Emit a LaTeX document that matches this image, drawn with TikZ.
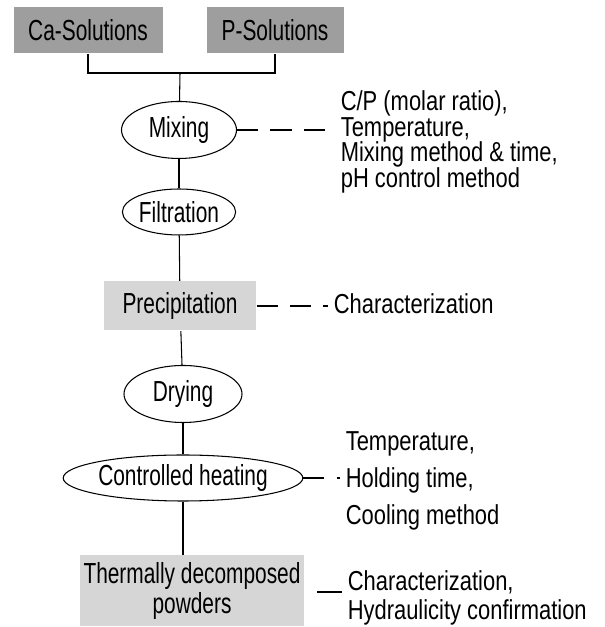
\documentclass[tikz,border=0pt]{standalone}
\usepackage{fontspec}
\setmainfont{Liberation Sans}
\newfontfamily\labelfont{Liberation Sans}[FakeStretch=0.72]
\newfontfamily\notefont{Liberation Sans}[FakeStretch=0.80]
\usetikzlibrary{shapes.geometric}
\definecolor{solgray}{gray}{0.62}
\definecolor{stepgray}{gray}{0.84}
\setlength{\lineskiplimit}{-20pt}

\begin{document}
\begin{tikzpicture}
[font=\labelfont\fontsize{16.5}{17}\selectfont, line width=0.6pt,
solution/.style={rectangle, fill=solgray, inner sep=0pt, minimum width=2.9cm, minimum height=0.92cm},
product/.style={rectangle, fill=stepgray, inner sep=0pt, align=center},
process/.style={ellipse, draw, inner sep=0pt},
note/.style={anchor=west, inner sep=3pt, align=left, font=\notefont\fontsize{15.6}{14.5}\selectfont},
link/.style={draw},
notelink/.style={draw, dash pattern=on 12pt off 7pt}]

\useasboundingbox (0,0) rectangle (12.08,12.54);

% starting solutions
\node[solution, minimum width=2.98cm] (ca) at (1.76,11.94) {Ca-Solutions};
\node[solution, minimum width=2.74cm] (psol) at (5.50,11.94) {P-Solutions};
\coordinate (joint) at (3.60,11.08);

% process steps
\node[process, minimum width=2.30cm, minimum height=1.14cm] (mixing) at (3.58,9.94) {Mixing};
\node[process, minimum width=2.16cm, minimum height=0.92cm] (filtration) at (3.58,8.30) {Filtration};
\node[product, minimum width=3.04cm, minimum height=0.98cm] (prec) at (3.60,6.42) {Precipitation};
\node[process, minimum width=2.36cm, minimum height=1.14cm] (drying) at (3.66,4.66) {Drying};
\node[process, minimum width=4.18cm, minimum height=0.92cm] (heating) at (3.66,2.98) {Controlled heating};
\node[product, minimum width=4.48cm, minimum height=1.42cm] (powder) at (3.84,0.72) {Thermally decomposed\\powders};

% parameters
\node[note] (mixnote) at (6.70,9.70) {C/P (molar ratio),\\Temperature,\\Mixing method \& time,\\pH control method};
\node[note] (precnote) at (6.56,6.46) {Characterization};
\node[note, font=\notefont\fontsize{15.6}{21}\selectfont] (heatnote) at (6.80,2.92) {Temperature,\\Holding time,\\Cooling method};
\node[note, font=\notefont\fontsize{15.6}{16.5}\selectfont] (powdernote) at (6.84,0.58) {Characterization,\\Hydraulicity confirmation};
\coordinate (powdertick) at (6.34,0.70);

\draw[link] (ca.south) |- (joint) -| (psol.south);
\draw[link] (joint) -- (mixing);
\draw[link] (mixing) -- (filtration);
\draw[link] (filtration) -- (prec);
\draw[link] (prec) -- (drying);
\draw[link] (drying) -- (heating);
\draw[link] (heating.south) -- (heating.south |- powder.north);

\draw[notelink] (mixing.east) -- (mixing.east -| mixnote.west);
\draw[notelink] (prec.east) -- (prec.east -| precnote.west);
\draw[notelink] (heating.east) -- (heating.east -| heatnote.west);
\draw[link] (powdertick) -- (powdertick -| powdernote.west);
\end{tikzpicture}
\end{document}
